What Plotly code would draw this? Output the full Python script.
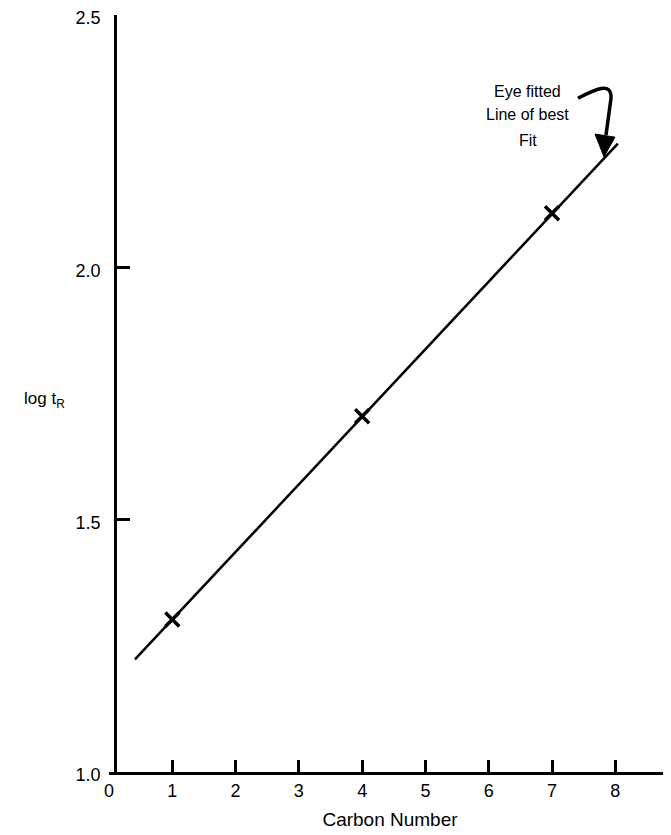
import plotly.graph_objects as go

# Data
carbon_number = [1, 4, 7]
log_tr = [1.302, 1.705, 2.107]
fit_x = [0.41, 8.04]
fit_y = [1.223, 2.245]
x_ticks = [0, 1, 2, 3, 4, 5, 6, 7, 8]
y_ticks = [1.0, 1.5, 2.0, 2.5]
y_tick_text = ["1.0", "1.5", "2.0", "2.5"]
note_lines = ["Eye fitted", "Line of best", "Fit"]
note_y = [2.349, 2.302, 2.252]

FONT = "Liberation Sans, Arial, sans-serif"

fig = go.Figure()
fig.add_trace(go.Scatter(x=fit_x, y=fit_y, mode="lines",
                         line=dict(color="black", width=2.5), showlegend=False, hoverinfo="skip"))
fig.add_trace(go.Scatter(x=carbon_number, y=log_tr, mode="markers",
                         marker=dict(symbol="x-thin", size=14, line=dict(color="black", width=3.5)),
                         showlegend=False))

# curved arrow
fig.add_shape(type="path", xref="x", yref="y",
              path="M 7.410,2.335 C 7.679,2.353 7.947,2.369 7.932,2.335 L 7.853,2.262",
              line=dict(color="black", width=3.5))
fig.add_shape(type="path", xref="x", yref="y",
              path="M 7.679,2.264 L 7.995,2.258 L 7.821,2.219 Z",
              fillcolor="black", line=dict(color="black", width=1))

for txt, yy in zip(note_lines, note_y):
    fig.add_annotation(x=6.62, y=yy, xref="x", yref="y", showarrow=False, text=txt,
                       font=dict(family=FONT, size=16, color="black"))
fig.add_annotation(x=-0.155, y=1.738, xref="paper", yref="y", xanchor="left", showarrow=False,
                   text="log t<sub>R</sub>", font=dict(family=FONT, size=17, color="black"))

fig.update_xaxes(range=[0, 8.88], tickvals=x_ticks, ticks="inside", ticklen=12, tickwidth=3,
                 tickcolor="black", showline=True, linecolor="black", linewidth=3,
                 showgrid=False, zeroline=False, automargin=False,
                 tickfont=dict(family=FONT, size=18, color="black"),
                 title=dict(text="Carbon Number", font=dict(family=FONT, size=19, color="black"), standoff=14))
fig.update_yaxes(range=[1.0, 2.5], tickvals=y_ticks, ticktext=y_tick_text, ticks="inside",
                 ticklen=13, tickwidth=3, tickcolor="black", showline=True, linecolor="black",
                 linewidth=3, showgrid=False, zeroline=False, ticklabelstandoff=10,
                 ticklabeloverflow="allow", automargin=False, ticklabelshift=3,
                 anchor="free", position=0.0107,
                 tickfont=dict(family=FONT, size=18, color="black"))

fig.update_layout(width=671, height=835, margin=dict(l=101, r=8, t=7, b=71),
                  plot_bgcolor="white", paper_bgcolor="white",
                  font=dict(family=FONT, size=16, color="black"))

fig.write_html("out.html")
